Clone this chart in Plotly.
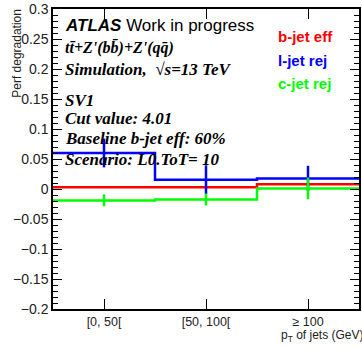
import plotly.graph_objects as go

categories = ["[0, 50[", "[50, 100[", "\u2265 100"]
b_eff = [0.003, 0.003, 0.008]
b_eff_err = [0.001, 0.001, 0.001]
l_rej = [0.060, 0.0155, 0.0177]
l_rej_err = [0.024, 0.024, 0.021]
c_rej = [-0.019, -0.0175, 0.001]
c_rej_err = [0.010, 0.010, 0.018]
y_ticks = [-0.2, -0.15, -0.1, -0.05, 0, 0.05, 0.1, 0.15, 0.2, 0.25, 0.3]
y_ticklabels = ["\u22120.2", "\u22120.15", "\u22120.1", "\u22120.05", "0",
                "0.05", "0.1", "0.15", "0.2", "0.25", "0.3"]

series = [
    ("b-jet eff", b_eff, b_eff_err, "#ff0000"),
    ("l-jet rej", l_rej, l_rej_err, "#0000ff"),
    ("c-jet rej", c_rej, c_rej_err, "#00ff00"),
]

W, H = 362, 349
L, R, T, B = 53, 1, 6, 40
pw, ph = W - L - R, H - T - B

def px(x):
    return (x - L) / pw

def py(y):
    return (H - B - y) / ph

fig = go.Figure()
n = len(categories)
edges = list(range(n + 1))
centers = [i + 0.5 for i in range(n)]
for name, vals, errs, col in series:
    fig.add_trace(go.Scatter(x=edges, y=list(vals) + [vals[-1]], mode="lines",
                             line=dict(color=col, width=2.5, shape="hv"),
                             showlegend=False, hoverinfo="skip"))
    fig.add_trace(go.Scatter(x=centers, y=vals, mode="markers",
                             marker=dict(size=1, color=col),
                             error_y=dict(type="data", array=errs, color=col,
                                          thickness=2.5, width=0),
                             showlegend=False, name=name))

fig.update_xaxes(range=[0, n], tickvals=centers, ticktext=categories,
                 ticks="inside", ticklen=10, tickcolor="black", tickwidth=1,
                 showline=True, linecolor="black", linewidth=1.5, mirror="ticks",
                 showgrid=False, zeroline=False,
                 tickfont=dict(family="Liberation Sans", size=12.5, color="#222"))
fig.update_yaxes(range=[-0.2, 0.3], tickmode="array", tickvals=y_ticks, ticktext=y_ticklabels,
                 ticklabeloverflow="allow",
                 ticks="inside", ticklen=9, tickcolor="black", tickwidth=1,
                 minor=dict(dtick=0.01, tick0=0, ticks="inside", ticklen=5, tickcolor="black"),
                 showline=True, linecolor="black", linewidth=1.5, mirror="ticks",
                 showgrid=False, zeroline=False,
                 tickfont=dict(family="Liberation Sans", size=14, color="#222"))

ann = []
def add(text, x, y, size, color="black", family="Liberation Serif", xanchor="left", **kw):
    ann.append(dict(text=text, x=px(x), y=py(y), xref="paper", yref="paper",
                    xanchor=xanchor, yanchor="middle", showarrow=False,
                    font=dict(family=family, size=size, color=color), **kw))

add("<b><i>ATLAS</i></b> Work in progress", 63, 23, 17, family="Liberation Sans")
add("<b><i>tt\u0304+Z'(bb\u0304)+Z'(qq\u0304)</i></b>", 63, 45, 16)
add("<b><i>Simulation,  \u221as=13 TeV</i></b>", 63, 67, 17)
add("<b><i>SV1</i></b>", 63, 98, 17)
add("<b><i>Cut value: 4.01</i></b>", 63, 117, 17)
add("<b><i>Baseline b-jet eff: 60%</i></b>", 63, 137, 17)
add("<b><i>Scenario: L0.ToT= 10</i></b>", 63, 158, 17)

for (name, _, _, col), yy in zip(series, [34, 58, 81]):
    add("<b>" + name + "</b>", 277, yy, 15, color=col, family="Liberation Sans")

add("p<sub>T</sub> of jets (GeV)", 280, 336, 12, color="#222", family="Liberation Sans")

ann.append(dict(text="Perf degradation", x=px(16), y=py(4), xref="paper", yref="paper",
                xanchor="center", yanchor="top", textangle=-90, showarrow=False,
                font=dict(family="Liberation Sans", size=12, color="#222")))

fig.update_layout(width=W, height=H, margin=dict(l=L, r=R, t=T, b=B),
                  plot_bgcolor="white", paper_bgcolor="white",
                  annotations=ann, showlegend=False)
fig.write_html("out.html", config={"displayModeBar": False},
               post_script="document.body.style.margin='0';")
